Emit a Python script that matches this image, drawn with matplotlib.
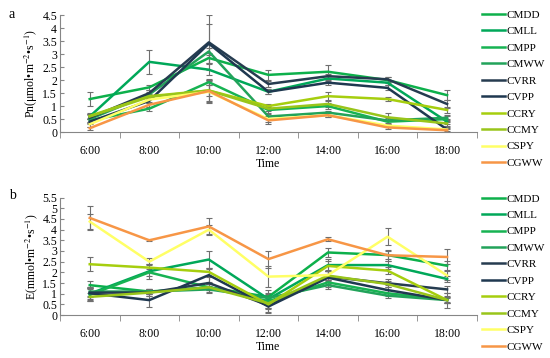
import numpy as np
import matplotlib
matplotlib.use("Agg")
import matplotlib.pyplot as plt
from matplotlib.ticker import FuncFormatter, MultipleLocator

plt.rcParams['font.family'] = ['Liberation Serif', 'DejaVu Serif']
plt.rcParams['mathtext.fontset'] = 'stix'

times = ["6:00", "8:00", "10:00", "12:00", "14:00", "16:00", "18:00"]
names = ["CMDD", "CMLL", "CMPP", "CMWW", "CVRR", "CVPP", "CCRY", "CCMY", "CSPY", "CGWW"]
colors = ["#0DB04B", "#00A859", "#17B352", "#22A35A", "#263C50", "#1F3850",
          "#A6CE0E", "#99C51A", "#FFFF66", "#F79646"]

# panel a: net photosynthetic rate
pn_cmdd = [1.27, 1.72, 2.85, 2.20, 2.32, 2.00, 1.42]
pn_cmll = [0.60, 2.70, 2.40, 1.55, 2.06, 1.90, 0.40]
pn_cmpp = [0.45, 0.90, 1.92, 0.85, 1.00, 0.40, 0.50]
pn_cmww = [0.50, 1.45, 3.10, 0.60, 0.75, 0.45, 0.55]
pn_cvrr = [0.55, 1.50, 3.45, 1.85, 2.15, 2.03, 1.08]
pn_cvpp = [0.40, 1.20, 3.40, 1.55, 1.90, 1.70, 0.10]
pn_ccry = [0.62, 1.38, 1.60, 1.00, 1.38, 1.27, 0.85]
pn_ccmy = [0.60, 1.35, 1.60, 0.90, 1.08, 0.57, 0.33]
pn_cspy = [0.30, 1.25, 1.55, 0.50, 0.65, 0.25, 0.10]
pn_cgww = [0.15, 1.05, 1.58, 0.45, 0.65, 0.18, 0.07]

pn_err_cmdd = [0.27, 0.10, 0.20, 0.20, 0.25, 0.10, 0.20]
pn_err_cmll = [0.10, 0.45, 0.20, 0.10, 0.10, 0.10, 0.10]
pn_err_cmpp = [0.10, 0.07, 0.10, 0.10, 0.10, 0.08, 0.10]
pn_err_cmww = [0.15, 0.10, 0.15, 0.10, 0.08, 0.10, 0.10]
pn_err_cvrr = [0.15, 0.10, 1.05, 0.10, 0.10, 0.10, 0.15]
pn_err_cvpp = [0.10, 0.10, 0.75, 0.10, 0.10, 0.10, 0.10]
pn_err_ccry = [0.10, 0.08, 0.20, 0.08, 0.15, 0.08, 0.10]
pn_err_ccmy = [0.10, 0.08, 0.40, 0.10, 0.10, 0.15, 0.10]
pn_err_cspy = [0.10, 0.08, 0.40, 0.10, 0.08, 0.05, 0.05]
pn_err_cgww = [0.05, 0.08, 0.45, 0.15, 0.08, 0.05, 0.05]

# panel b: transpiration rate
e_cmdd = [1.40, 1.10, 1.30, 0.85, 2.93, 2.81, 2.31]
e_cmll = [1.00, 2.05, 2.60, 0.75, 2.34, 2.34, 1.69]
e_cmpp = [0.95, 2.00, 1.30, 0.65, 1.53, 1.02, 0.72]
e_cmww = [1.10, 1.10, 1.20, 0.80, 1.40, 0.91, 0.70]
e_cvrr = [1.05, 1.05, 1.50, 0.45, 1.80, 1.49, 1.20]
e_cvpp = [1.02, 0.70, 1.87, 0.40, 1.75, 1.17, 0.70]
e_ccry = [2.38, 2.22, 2.02, 0.50, 2.30, 2.08, 0.70]
e_ccmy = [0.85, 1.05, 1.30, 0.55, 1.85, 1.45, 0.70]
e_cspy = [4.38, 2.50, 4.00, 1.80, 1.87, 3.67, 1.85]
e_cgww = [4.55, 3.50, 4.15, 2.62, 3.55, 2.80, 2.72]

e_err_cmdd = [0.20, 0.10, 0.15, 0.30, 0.20, 0.20, 0.20]
e_err_cmll = [0.30, 0.35, 0.40, 0.30, 0.30, 0.20, 0.15]
e_err_cmpp = [0.30, 0.15, 0.20, 0.30, 0.20, 0.15, 0.15]
e_err_cmww = [0.20, 0.10, 0.15, 0.20, 0.20, 0.10, 0.10]
e_err_cvrr = [0.20, 0.15, 0.30, 0.30, 0.25, 0.20, 0.15]
e_err_cvpp = [0.25, 0.30, 0.30, 0.30, 0.30, 0.25, 0.35]
e_err_ccry = [0.32, 0.15, 0.20, 0.20, 0.25, 0.15, 0.15]
e_err_ccmy = [0.20, 0.15, 0.15, 0.20, 0.20, 0.15, 0.15]
e_err_cspy = [0.35, 0.15, 0.20, 0.50, 0.25, 0.40, 0.20]
e_err_cgww = [0.55, 0.05, 0.40, 0.40, 0.10, 0.25, 0.35]

pn_all = [pn_cmdd, pn_cmll, pn_cmpp, pn_cmww, pn_cvrr, pn_cvpp, pn_ccry, pn_ccmy, pn_cspy, pn_cgww]
pn_err = [pn_err_cmdd, pn_err_cmll, pn_err_cmpp, pn_err_cmww, pn_err_cvrr, pn_err_cvpp,
          pn_err_ccry, pn_err_ccmy, pn_err_cspy, pn_err_cgww]
e_all = [e_cmdd, e_cmll, e_cmpp, e_cmww, e_cvrr, e_cvpp, e_ccry, e_ccmy, e_cspy, e_cgww]
e_err = [e_err_cmdd, e_err_cmll, e_err_cmpp, e_err_cmww, e_err_cvrr, e_err_cvpp,
         e_err_ccry, e_err_ccmy, e_err_cspy, e_err_cgww]

fig = plt.figure(figsize=(5.5, 3.58), dpi=100)
ax_a = fig.add_axes([0.109, 0.631, 0.758, 0.327])
ax_b = fig.add_axes([0.109, 0.120, 0.758, 0.328])

axis_grey = "#868686"
x = np.arange(len(times))


def draw_panel(ax, series, errors, ymax, ylabel, letter, letter_y, legend_top):
    handles = []
    for vals, errs, c, n in zip(series, errors, colors, names):
        ax.errorbar(x, vals, yerr=errs, fmt="none", ecolor="#6f6f6f", elinewidth=0.8,
                    capsize=2, capthick=0.8, zorder=1)
        h, = ax.plot(x, vals, color=c, lw=1.8, label=n, zorder=2)
        handles.append(h)
    ax.set_xlim(-0.5, 6.5)
    ax.set_ylim(0, ymax)
    ax.yaxis.set_major_locator(MultipleLocator(0.5))
    ax.yaxis.set_major_formatter(FuncFormatter(lambda v, p: f"{v:g}"))
    ax.set_xticks(x)
    ax.set_xticklabels(times)
    ax.set_xticks(np.arange(-0.5, 7, 1), minor=True)
    ax.tick_params(axis="x", which="major", length=0, labelsize=8.5, pad=9)
    ax.tick_params(axis="x", which="minor", length=4, direction="out", color=axis_grey)
    ax.tick_params(axis="y", length=3, direction="in", color=axis_grey, labelsize=8.5, pad=2)
    for s in ["top", "right"]:
        ax.spines[s].set_visible(False)
    for s in ["left", "bottom"]:
        ax.spines[s].set_color(axis_grey)
        ax.spines[s].set_linewidth(0.8)
    ax.set_xlabel("Time", fontsize=8.5, labelpad=1)
    ax.set_ylabel(ylabel, fontsize=8.5, labelpad=2)
    fig.text(0.016, letter_y, letter, fontsize=10, va="top")
    fig.legend(handles=handles, loc="upper left", bbox_to_anchor=(0.872, legend_top),
               frameon=False, fontsize=8, handlelength=2.1, handletextpad=0.15,
               labelspacing=0.6, borderaxespad=0, borderpad=0.2)


draw_panel(ax_a, pn_all, pn_err, 4.5, r"Pn(μmol•m$^{-2}$•s$^{-1}$)", "a", 0.978, 0.978)
draw_panel(ax_b, e_all, e_err, 5.5, r"E(mmol•m$^{-2}$•s$^{-1}$)", "b", 0.472, 0.465)

fig.savefig("out.png", dpi=100)
